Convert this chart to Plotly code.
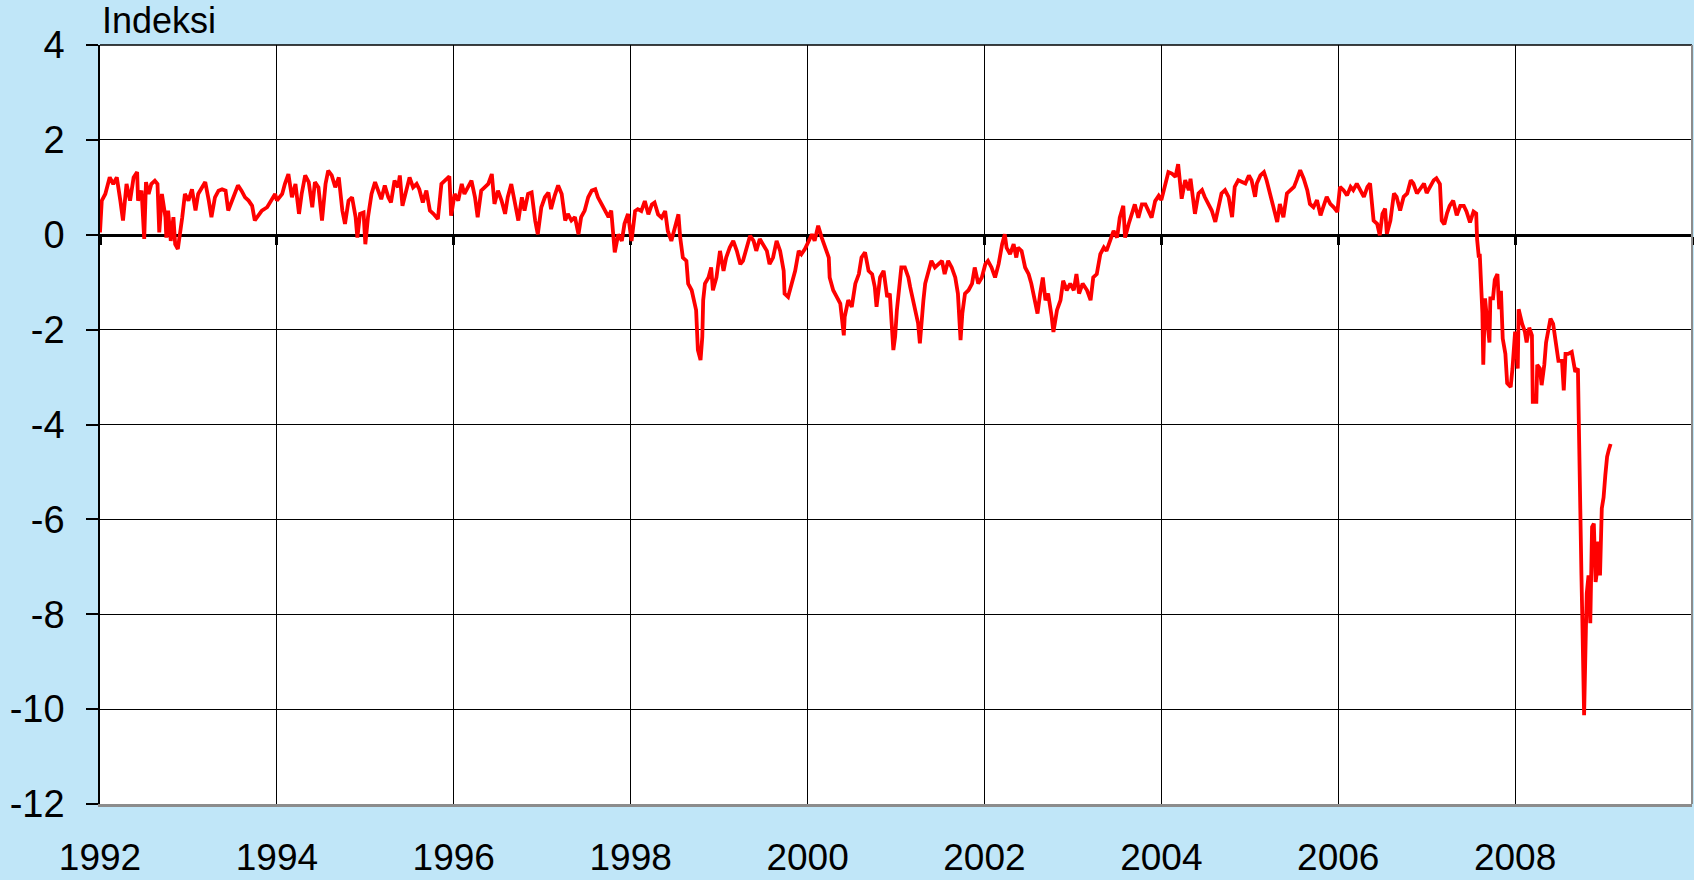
import plotly.graph_objects as go

# ---- data (decimal year, index value) ----
years = [
 1992.00,1992.02,1992.06,1992.11,1992.15,1992.19,1992.23,1992.26,1992.30,1992.34,1992.38,1992.42,1992.43,1992.47,1992.50,1992.52,1992.55,1992.58,1992.62,1992.65,
 1992.67,1992.70,1992.74,1992.75,1992.77,1992.80,1992.83,1992.85,1992.88,1992.91,1992.93,1992.96,1993.00,1993.04,1993.08,1993.11,1993.15,1993.19,1993.23,1993.26,
 1993.30,1993.34,1993.38,1993.42,1993.45,1993.49,1993.53,1993.56,1993.60,1993.64,1993.68,1993.72,1993.75,1993.79,1993.83,1993.89,1993.94,1993.98,1994.00,1994.06,
 1994.09,1994.13,1994.17,1994.21,1994.25,1994.28,1994.32,1994.36,1994.40,1994.43,1994.47,1994.51,1994.55,1994.58,1994.62,1994.66,1994.70,1994.74,1994.77,1994.81,
 1994.85,1994.89,1994.91,1994.94,1994.98,1995.00,
 1995.03,1995.07,1995.11,1995.14,1995.18,1995.22,1995.26,1995.29,1995.33,1995.37,1995.39,1995.42,1995.46,1995.50,1995.54,1995.58,1995.61,1995.65,1995.69,1995.73,
 1995.77,1995.82,1995.86,1995.90,1995.95,1995.97,1996.01,1996.05,1996.09,1996.12,1996.16,1996.20,1996.24,1996.27,1996.31,1996.35,1996.39,1996.43,1996.46,1996.50,
 1996.54,1996.58,1996.61,1996.65,1996.69,1996.73,1996.77,1996.80,1996.84,1996.88,1996.92,1996.95,1996.99,1997.03,1997.07,1997.10,1997.14,1997.18,1997.22,1997.26,
 1997.29,1997.33,1997.37,1997.41,1997.44,1997.48,1997.52,1997.56,1997.60,1997.63,1997.67,1997.71,1997.75,1997.78,1997.82,1997.86,1997.90,1997.93,1997.97,
 1998.01,1998.05,1998.08,1998.12,1998.16,1998.20,1998.24,1998.27,1998.31,1998.35,1998.39,1998.42,1998.46,1998.50,1998.54,1998.56,1998.59,1998.63,1998.65,1998.69,
 1998.73,1998.74,1998.76,1998.79,1998.81,1998.82,1998.84,1998.88,1998.91,1998.93,1998.97,1999.01,1999.05,1999.08,1999.12,1999.16,1999.20,1999.24,1999.27,1999.31,
 1999.35,1999.39,1999.42,1999.46,1999.50,1999.54,1999.57,1999.61,1999.65,1999.69,1999.73,1999.74,1999.78,1999.82,1999.86,1999.90,1999.93,1999.97,2000.01,2000.05,
 2000.08,2000.12,2000.16,2000.20,2000.24,2000.25,2000.29,2000.33,2000.37,2000.41,2000.42,2000.46,2000.50,2000.54,2000.58,2000.61,2000.65,2000.69,2000.73,2000.76,
 2000.78,2000.82,2000.86,2000.90,2000.93,
 2000.97,2000.99,2001.01,2001.03,2001.04,2001.06,2001.10,2001.14,2001.16,2001.19,2001.23,2001.25,2001.27,2001.29,2001.31,2001.33,2001.36,2001.40,2001.44,2001.48,
 2001.52,2001.55,2001.59,2001.63,2001.67,2001.70,2001.73,2001.75,2001.78,2001.82,2001.86,2001.89,2001.93,2001.97,2002.01,2002.04,2002.08,2002.12,2002.16,2002.20,
 2002.23,2002.25,2002.29,2002.33,2002.36,2002.38,2002.42,2002.46,2002.50,2002.53,2002.57,2002.60,2002.63,2002.66,2002.69,2002.72,2002.76,2002.78,2002.82,2002.86,
 2002.89,2002.93,2002.97,2003.01,2003.04,2003.07,2003.11,2003.16,2003.20,2003.23,2003.27,2003.31,2003.35,2003.38,2003.42,2003.46,2003.50,2003.53,2003.57,2003.59,
 2003.63,2003.67,2003.70,2003.74,2003.78,2003.82,2003.86,2003.89,2003.93,2003.97,
 2004.00,2004.04,2004.08,2004.12,2004.16,2004.19,2004.21,2004.23,2004.27,2004.31,2004.33,2004.36,2004.38,2004.42,2004.46,2004.49,2004.53,2004.57,2004.61,2004.65,
 2004.68,2004.72,2004.76,2004.80,2004.83,2004.87,2004.91,2004.95,2004.99,2005.02,2005.06,2005.08,2005.12,2005.16,2005.19,2005.23,2005.27,2005.31,2005.34,2005.38,
 2005.42,2005.46,2005.50,2005.53,2005.57,2005.61,2005.65,2005.68,2005.72,2005.76,2005.80,2005.83,2005.87,2005.91,2005.95,2005.99,2006.02,2006.06,2006.10,2006.14,
 2006.17,2006.21,2006.25,2006.29,2006.33,2006.36,2006.40,2006.44,2006.47,2006.50,2006.53,2006.55,2006.59,2006.63,2006.66,2006.70,2006.74,2006.78,2006.82,2006.85,
 2006.89,2006.93,2006.97,
 2007.00,2007.04,2007.08,2007.11,2007.15,2007.17,2007.20,2007.23,2007.26,2007.30,2007.34,2007.38,2007.42,2007.45,2007.49,2007.53,2007.56,2007.57,2007.59,2007.60,
 2007.62,2007.63,2007.64,2007.66,2007.68,2007.71,2007.72,2007.75,2007.77,2007.80,2007.82,2007.84,2007.86,2007.89,2007.91,2007.95,2007.97,2008.00,2008.03,2008.04,
 2008.08,2008.11,2008.13,2008.16,2008.19,2008.20,2008.24,2008.25,2008.28,2008.30,2008.33,2008.35,2008.40,2008.43,2008.46,2008.49,2008.53,2008.55,2008.57,2008.60,
 2008.64,2008.68,2008.71,2008.72,2008.73,2008.74,2008.75,2008.76,2008.78,2008.80,2008.81,2008.83,2008.85,2008.87,2008.89,2008.91,2008.92,2008.94,2008.96,2008.98,
 2009.00,2009.02,2009.04,2009.06,2009.08,
]
index_values = [
 0.05,0.72,0.86,1.21,1.07,1.21,0.72,0.30,1.07,0.72,1.21,1.32,0.72,0.93,-0.09,1.11,0.86,1.07,1.14,1.07,
 0.05,0.86,0.37,-0.06,0.51,-0.13,0.37,-0.20,-0.30,0.08,0.37,0.86,0.72,0.96,0.51,0.86,1.00,1.11,0.72,0.37,
 0.79,0.93,0.96,0.93,0.51,0.72,0.89,1.04,0.93,0.79,0.72,0.61,0.30,0.40,0.51,0.58,0.72,0.86,0.72,0.86,
 1.07,1.28,0.79,1.07,0.44,0.86,1.25,1.11,0.58,1.11,1.00,0.30,1.07,1.35,1.25,1.00,1.21,0.51,0.23,0.72,
 0.79,0.37,-0.06,0.44,0.47,-0.20,
 0.37,0.86,1.11,0.93,0.75,1.04,0.79,0.68,1.14,1.00,1.25,0.61,0.93,1.21,1.00,1.07,0.96,0.68,0.93,0.51,
 0.44,0.33,1.07,1.14,1.23,0.40,0.86,0.72,1.07,0.86,1.00,1.14,0.79,0.37,0.93,1.00,1.07,1.28,0.65,0.93,
 0.72,0.44,0.79,1.07,0.72,0.30,0.79,0.51,0.86,0.89,0.30,0.01,0.58,0.79,0.89,0.54,0.82,1.04,0.86,0.30,
 0.44,0.30,0.37,0.01,0.37,0.51,0.79,0.93,0.96,0.79,0.65,0.51,0.37,0.51,-0.37,0.01,-0.13,0.23,0.44,
 -0.13,0.50,0.54,0.50,0.71,0.43,0.64,0.68,0.43,0.36,0.50,0.08,-0.13,0.15,0.43,-0.06,-0.48,-0.55,-1.03,-1.17,
 -1.45,-1.59,-2.43,-2.64,-2.15,-1.38,-1.03,-0.90,-0.69,-1.17,-0.90,-0.34,-0.76,-0.48,-0.27,-0.13,-0.34,-0.62,-0.55,-0.27,
 -0.02,-0.13,-0.34,-0.09,-0.20,-0.34,-0.62,-0.48,-0.13,-0.34,-0.76,-1.24,-1.31,-1.03,-0.76,-0.34,-0.41,-0.30,-0.13,0.01,
 -0.13,0.19,-0.06,-0.27,-0.48,-0.90,-1.17,-1.31,-1.45,-2.12,-1.73,-1.38,-1.52,-1.03,-0.83,-0.48,-0.37,-0.76,-0.83,-1.10,
 -1.52,-0.90,-0.76,-1.31,-1.24,
 -2.43,-2.15,-1.59,-1.17,-0.90,-0.69,-0.69,-0.90,-1.10,-1.38,-1.73,-1.87,-2.29,-1.73,-1.38,-1.03,-0.83,-0.55,-0.69,-0.62,
 -0.55,-0.83,-0.55,-0.69,-0.90,-1.24,-2.22,-1.66,-1.24,-1.17,-1.03,-0.69,-1.03,-0.90,-0.62,-0.55,-0.69,-0.90,-0.62,-0.20,
 0.01,-0.27,-0.41,-0.20,-0.48,-0.27,-0.34,-0.69,-0.83,-1.03,-1.45,-1.66,-1.24,-0.90,-1.38,-1.24,-1.73,-2.05,-1.59,-1.38,
 -0.97,-1.17,-1.03,-1.17,-0.83,-1.24,-1.03,-1.17,-1.38,-0.90,-0.83,-0.41,-0.27,-0.34,-0.13,0.08,-0.06,0.36,0.61,-0.06,
 0.22,0.50,0.64,0.36,0.64,0.64,0.50,0.36,0.71,0.82,
 0.73,1.01,1.32,1.29,1.22,1.49,1.08,0.76,1.15,0.94,1.18,0.73,0.44,0.87,0.94,0.80,0.65,0.51,0.27,0.58,
 0.87,0.94,0.80,0.37,1.01,1.15,1.11,1.08,1.25,1.15,0.80,1.08,1.25,1.32,1.15,0.87,0.58,0.27,0.65,0.37,
 0.87,0.94,1.01,1.15,1.36,1.18,0.94,0.65,0.58,0.73,0.41,0.58,0.80,0.65,0.58,0.48,1.01,0.94,0.83,1.01,
 0.94,1.08,0.94,0.80,1.01,1.08,0.30,0.23,-0.01,0.44,0.55,0.02,0.30,0.87,0.80,0.51,0.80,0.87,1.15,1.08,
 0.87,0.97,1.08,
 0.88,1.00,1.15,1.19,1.07,0.30,0.22,0.45,0.61,0.72,0.41,0.61,0.61,0.49,0.26,0.49,0.45,-0.09,-0.48,-0.40,
 -1.18,-1.65,-2.74,-1.34,-1.73,-2.27,-1.34,-1.34,-0.95,-0.83,-1.57,-1.18,-2.19,-2.51,-3.13,-3.21,-2.82,-2.04,-2.82,-1.57,
 -1.88,-2.04,-2.27,-1.96,-2.12,-3.52,-3.52,-2.74,-2.82,-3.17,-2.74,-2.27,-1.77,-1.88,-2.27,-2.66,-2.66,-3.28,-2.51,-2.51,
 -2.47,-2.89,-2.82,-4.30,-5.46,-6.01,-7.18,-8.11,-10.13,-8.34,-7.56,-7.18,-8.19,-6.16,-6.09,-7.32,-7.18,-6.47,-7.18,-5.77,
 -5.54,-5.07,-4.68,-4.53,-4.41,
]

x_ticks = [1992, 1994, 1996, 1998, 2000, 2002, 2004, 2006, 2008]
x_tick_labels = [str(v) for v in x_ticks]
zero_ticks = [1992, 1994, 1996, 1998, 2000, 2002, 2004, 2006, 2008, 2010]
y_ticks = [4, 2, 0, -2, -4, -6, -8, -10, -12]
y_tick_labels = ["4", "2", "0", "-2", "-4", "-6", "-8", "-10", "-12"]
y_title = "Indeksi"

FONT = "Liberation Sans, Arial, sans-serif"

fig = go.Figure()
fig.add_trace(go.Scatter(
    x=years, y=index_values, mode="lines",
    line=dict(color="#ff0000", width=3.8),
    xaxis="x", yaxis="y", showlegend=False, hoverinfo="x+y",
))
# empty carrier so the bottom label axis is drawn
fig.add_trace(go.Scatter(
    x=[years[0]], y=[None], mode="lines", xaxis="x2", yaxis="y",
    showlegend=False, hoverinfo="skip",
))

fig.update_layout(
    width=1694, height=880,
    margin=dict(l=100, r=2, t=45, b=76, pad=0, autoexpand=False),
    paper_bgcolor="#c0e6f8",
    plot_bgcolor="#ffffff",
    font=dict(family=FONT, size=38, color="#000000"),
    showlegend=False,
    # axis that sits on the zero line (gridlines + small ticks)
    xaxis=dict(
        range=[1992, 2010], tickvals=zero_ticks, showticklabels=False,
        anchor="free", position=0.75, automargin=False,
        showgrid=True, gridcolor="#000000", gridwidth=1.4,
        showline=True, linecolor="#000000", linewidth=3,
        ticks="outside", ticklen=8, tickwidth=3, tickcolor="#000000",
        zeroline=False, layer="below traces",
    ),
    # axis at the bottom carrying the year labels
    xaxis2=dict(
        overlaying="x", matches="x", anchor="y", side="bottom", automargin=False,
        range=[1992, 2010], tickvals=x_ticks, ticktext=x_tick_labels,
        showgrid=False, zeroline=False,
        showline=True, linecolor="#8c8c8c", linewidth=3,
        ticks="", ticklabelstandoff=19,
        tickfont=dict(family=FONT, size=37, color="#000000"),
    ),
    yaxis=dict(
        range=[-12, 4], tickvals=y_ticks, ticktext=y_tick_labels, automargin=False,
        showgrid=True, gridcolor="#000000", gridwidth=1.4,
        zeroline=False,
        showline=True, linecolor="#000000", linewidth=1.5,
        ticks="outside", ticklen=12, tickwidth=1.5, tickcolor="#000000",
        ticklabelstandoff=14,
        tickfont=dict(family=FONT, size=38, color="#000000"),
    ),
    annotations=[dict(
        text=y_title, xref="paper", yref="paper", x=0, y=1,
        xanchor="left", yanchor="bottom", showarrow=False, yshift=2, xshift=0,
        font=dict(family=FONT, size=36, color="#000000"),
    )],
    shapes=[
        dict(type="line", xref="paper", yref="paper", x0=0, x1=1, y0=1, y1=1,
             line=dict(color="#000000", width=1.5)),
        dict(type="line", xref="paper", yref="paper", x0=1, x1=1, y0=0, y1=1,
             line=dict(color="#8c8c8c", width=2)),
    ],
)

fig.write_html(
    "out.html",
    config={"displayModeBar": False},
    post_script="document.body.style.margin='0';document.body.style.overflow='hidden';",
)
